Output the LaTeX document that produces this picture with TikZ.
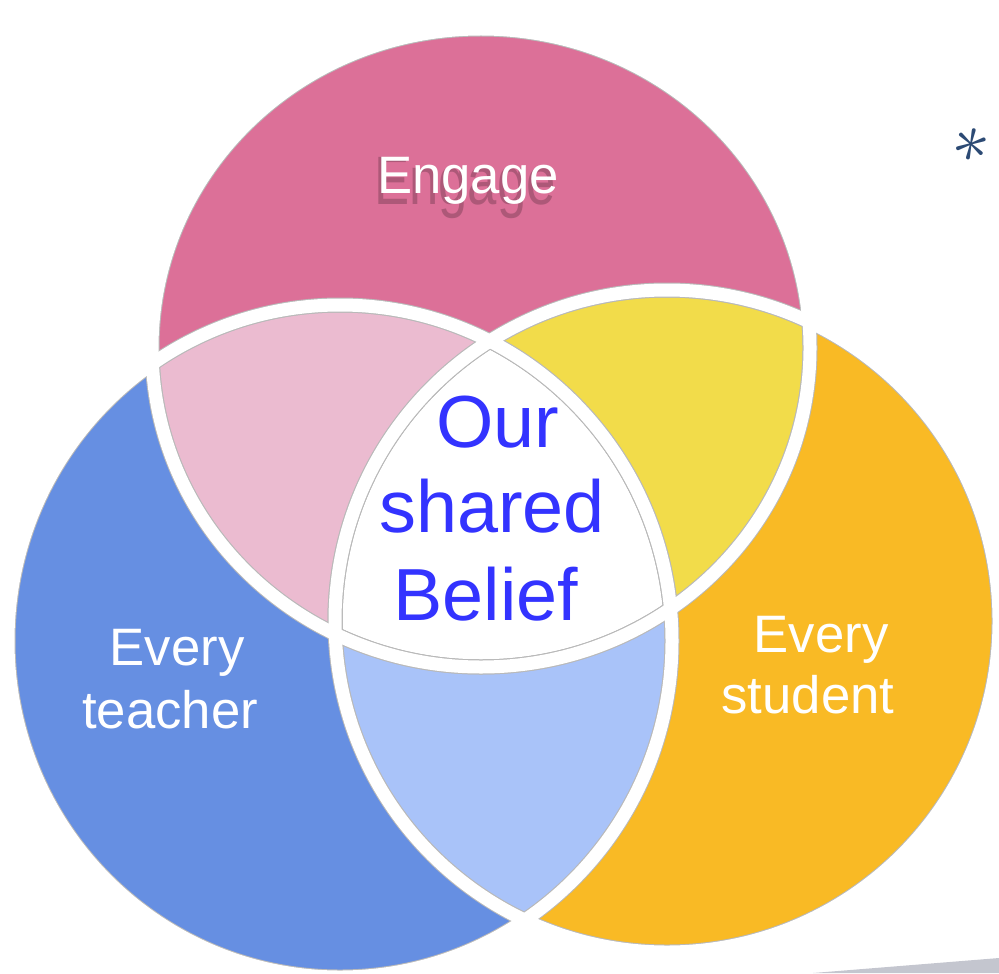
\documentclass[tikz,border=0pt]{standalone}
\usepackage{fontspec}
\setmainfont{Liberation Sans}
\definecolor{engagepink}{HTML}{DC7098}
\definecolor{teacherblue}{HTML}{668FE2}
\definecolor{studentorange}{HTML}{F9BA25}
\definecolor{lightpink}{HTML}{EBBBD0}
\definecolor{lightyellow}{HTML}{F2DC4A}
\definecolor{lightblue}{HTML}{A9C3F9}
\definecolor{beliefblue}{HTML}{3333FF}
\definecolor{starblue}{HTML}{2C4A74}
\definecolor{slideshadow}{HTML}{C4C6CF}

\tikzset{
  edge line/.style={draw=gray!55, line width=0.30cm},
  gap line/.style={draw=white, line width=0.26cm},
  label text/.style={text=white, anchor=base, inner sep=0pt, font=\fontsize{30}{34}\selectfont},
  belief text/.style={text=beliefblue, anchor=base, inner sep=0pt, font=\fontsize{42}{48}\selectfont}
}

\begin{document}
\begin{tikzpicture}[x=0.02cm, y=-0.02cm]
\useasboundingbox (0,0) rectangle (999,973);
%\draw[help lines] (0,0) grid[step=50] (999,973);

% slide shadow
\fill[slideshadow] (813,973) -- (999,958) -- (999,973) -- cycle;

% the three sets
\coordinate (T) at (481,348);
\coordinate (L) at (340,641);
\coordinate (R) at (667,621);
\def\setT{(T) ellipse [x radius=329, y radius=319]}
\def\setL{(L) ellipse [x radius=332, y radius=336]}
\def\setR{(R) ellipse [x radius=332, y radius=331]}

\fill[engagepink] \setT;
\fill[teacherblue] \setL;
\fill[studentorange] \setR;

\begin{scope}
  \clip \setT;
  \fill[lightpink] \setL;
  \fill[lightyellow] \setR;
\end{scope}
\begin{scope}
  \clip \setL;
  \fill[lightblue] \setR;
  \clip \setT;
  \fill[white] \setR;
\end{scope}

% grey edges, then the white gaps
\foreach \a in {\setT, \setL, \setR}
  \foreach \b in {\setT, \setL, \setR} {
    \begin{scope}
      \clip \b;
      \draw[edge line] \a;
    \end{scope}
  }
\foreach \a in {\setT, \setL, \setR}
  \draw[gap line] \a;

% labels
\node[label text, text=engagepink!40!black, opacity=0.35, anchor=north] (engageshadow) at (465,157) {\scalebox{1}[1.3]{Engage}};
\node[label text, anchor=north] (engage) at (468,157) {Engage};

\node[label text] (every1) at (177,665) {Every};
\node[label text] (teacher) at (170,728) {teacher};
\node[label text] (every2) at (821,652) {Every};
\node[label text] (student) at (808,713) {student};

\node[belief text] (our) at (498,447) {Our};
\node[belief text] (shared) at (492,532) {shared};
\node[belief text] (belief) at (486,620) {Belief};

\node[text=starblue, rotate=-12, inner sep=0pt] (star) at (971,146) {\scalebox{4.2}{$\ast$}};

\end{tikzpicture}
\end{document}
